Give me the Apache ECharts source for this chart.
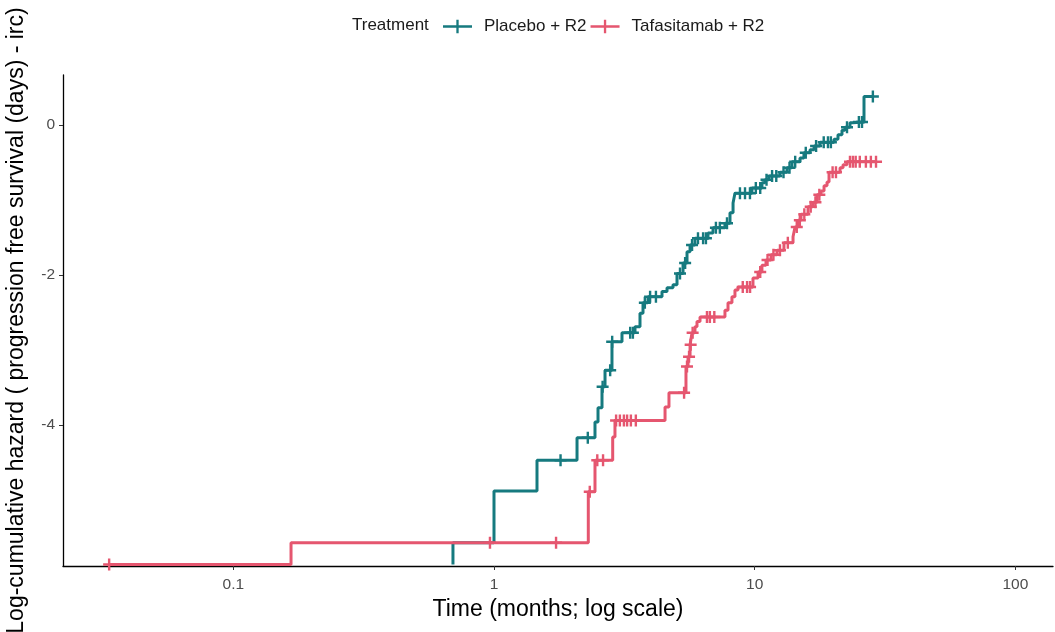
<!DOCTYPE html>
<html>
<head>
<meta charset="utf-8">
<script src="https://cdn.jsdelivr.net/npm/echarts@6/dist/echarts.min.js"></script>
<style>
html,body{margin:0;padding:0;background:#fff;}
#chart{width:1055px;height:632px;}
</style>
</head>
<body>
<div id="chart"></div>
<script>
// ---- Data (time in months, log-cumulative hazard) ----
var placeboName = 'Placebo + R2';
var tafaName = 'Tafasitamab + R2';

var placeboTime = [0.696, 0.696, 1.00, 1.462, 2.082, 2.440, 2.506, 2.596, 2.666, 2.835, 3.097, 3.474, 3.631, 3.729, 3.897, 4.41, 4.61, 4.86, 5.035, 5.31, 5.50, 5.65, 5.90, 6.62, 6.92, 7.69, 8.04, 8.26, 8.40, 9.76, 10.66, 10.95, 11.34, 12.5, 13.3, 13.9, 14.92, 15.45, 16.3, 16.9, 17.81, 20.15, 20.87, 21.62, 22.2, 23.2, 23.8, 26.26, 28.4];
var placeboLogH = [-5.86, -5.57, -4.88, -4.47, -4.17, -3.96, -3.77, -3.49, -3.27, -2.89, -2.77, -2.69, -2.51, -2.37, -2.29, -2.22, -2.17, -2.13, -1.98, -1.84, -1.69, -1.60, -1.51, -1.44, -1.37, -1.31, -1.17, -1.04, -0.91, -0.84, -0.77, -0.73, -0.68, -0.63, -0.57, -0.49, -0.44, -0.37, -0.33, -0.28, -0.23, -0.19, -0.13, -0.07, -0.03, 0.03, 0.04, 0.38, 0.38];
var placeboCensor = [1.80, 2.29, 2.61, 2.79, 2.84, 3.33, 3.41, 3.79, 3.97, 4.18, 5.17, 5.41, 5.75, 6.06, 6.34, 6.5, 7.1, 7.35, 7.83, 8.78, 9.18, 9.59, 10.1, 10.5, 11.1, 11.66, 12.1, 12.9, 13.6, 14.3, 15.7, 17.2, 18.4, 19.1, 19.6, 22.6, 25.1, 25.8, 28.4];

var tafaTime = [0.0334, 0.1665, 2.300, 2.440, 2.853, 2.911, 4.53, 4.69, 5.45, 5.55, 5.65, 5.75, 5.90, 6.007, 6.17, 7.69, 7.90, 8.18, 8.40, 8.63, 9.85, 10.3, 10.66, 11.05, 11.55, 12.18, 12.95, 14.03, 14.28, 14.66, 15.05, 16.02, 16.74, 17.34, 17.96, 18.45, 18.94, 19.28, 21.25, 21.82, 22.6, 29.2];
var tafaLogH = [-5.86, -5.57, -4.89, -4.47, -4.16, -3.94, -3.76, -3.57, -3.22, -3.09, -2.93, -2.77, -2.69, -2.62, -2.56, -2.47, -2.37, -2.29, -2.20, -2.16, -2.04, -1.96, -1.87, -1.80, -1.73, -1.67, -1.57, -1.49, -1.36, -1.27, -1.19, -1.09, -1.03, -0.93, -0.88, -0.81, -0.76, -0.63, -0.57, -0.53, -0.49, -0.49];
var tafaCensor = [0.0334, 0.965, 1.73, 2.33, 2.49, 2.62, 2.94, 3.04, 3.15, 3.24, 3.35, 3.50, 5.36, 5.50, 5.60, 5.68, 5.78, 6.56, 6.73, 7.0, 9.0, 9.35, 9.6, 10.5, 11.2, 11.8, 12.5, 13.4, 14.5, 14.9, 15.5, 16.4, 17.1, 17.7, 19.9, 20.5, 23.2, 23.8, 24.4, 25.3, 26.7, 27.9, 29.2];

var xTicks = [0.1, 1, 10, 100];
var yTicks = [-4, -2, 0];

// ---- Helpers ----
function pairs(xs, ys) { return xs.map(function (x, i) { return [x, ys[i]]; }); }
function stepAt(xs, ys, t) {
  var v = ys[0];
  for (var i = 0; i < xs.length; i++) { if (xs[i] <= t + 1e-9) v = ys[i]; }
  return v;
}
function censorPts(cs, xs, ys) { return cs.map(function (t) { return [t, stepAt(xs, ys, t)]; }); }

var teal = '#167A7F';
var red = '#E5566F';
var font = "'Liberation Sans', Arial, sans-serif";
var plus = 'path://M-6,-1.2 L-1.2,-1.2 L-1.2,-6 L1.2,-6 L1.2,-1.2 L6,-1.2 L6,1.2 L1.2,1.2 L1.2,6 L-1.2,6 L-1.2,1.2 L-6,1.2 Z';
var legendIcon = 'path://M0,5.8 L30,5.8 L30,8.2 L0,8.2 Z M13.8,0 L16.2,0 L16.2,14 L13.8,14 Z';

var chart = echarts.init(document.getElementById('chart'), null, { renderer: 'canvas' });
chart.setOption({
  animation: false,
  backgroundColor: '#ffffff',
  textStyle: { fontFamily: font },
  title: {
    text: 'Treatment', left: 352, top: 17, padding: 0,
    textStyle: { fontSize: 17, fontWeight: 'normal', color: '#1a1a1a', fontFamily: font }
  },
  legend: {
    left: 443, top: 18, padding: 0,
    itemWidth: 29, itemHeight: 14, itemGap: 4,
    textStyle: { fontSize: 17, color: '#1a1a1a', fontFamily: font, padding: [0, 0, 0, 7] },
    data: [
      { name: placeboName, icon: legendIcon, itemStyle: { color: teal } },
      { name: tafaName, icon: legendIcon, itemStyle: { color: red } }
    ]
  },
  grid: { left: 63, right: 2, top: 75, bottom: 66, containLabel: false, outerBoundsMode: 'none' },
  xAxis: {
    type: 'log', logBase: 10, min: 0.02222, max: 139.4,
    name: 'Time (months; log scale)', nameLocation: 'middle', nameGap: 29,
    nameTextStyle: { fontSize: 23, color: '#000', fontFamily: font },
    axisLine: { show: true, onZero: false, lineStyle: { color: '#000', width: 1.3 } },
    axisTick: { show: true, length: 4, customValues: xTicks, lineStyle: { color: '#333' } },
    axisLabel: { customValues: xTicks, fontSize: 15.5, color: '#4d4d4d', margin: 11, fontFamily: font },
    splitLine: { show: false }, minorTick: { show: false }
  },
  yAxis: {
    type: 'value', min: -5.88, max: 0.667,
    name: 'Log-cumulative hazard ( progression free survival (days) - irc)',
    nameLocation: 'middle', nameGap: 35,
    nameTextStyle: { fontSize: 23, color: '#000', fontFamily: font },
    axisLine: { show: true, lineStyle: { color: '#000', width: 1.3 } },
    axisTick: { show: true, length: 4, customValues: yTicks, lineStyle: { color: '#333' } },
    axisLabel: { customValues: yTicks, fontSize: 15.5, color: '#4d4d4d', margin: 8, fontFamily: font },
    splitLine: { show: false }
  },
  series: [
    {
      name: placeboName, type: 'line', step: 'end', showSymbol: false, symbol: 'none',
      data: pairs(placeboTime, placeboLogH),
      lineStyle: { color: teal, width: 3 }, itemStyle: { color: teal }, z: 3
    },
    {
      name: tafaName, type: 'line', step: 'end', showSymbol: false, symbol: 'none',
      data: pairs(tafaTime, tafaLogH),
      lineStyle: { color: red, width: 3 }, itemStyle: { color: red }, z: 4
    },
    {
      name: placeboName + ' censored', type: 'scatter', symbol: plus, symbolSize: 12,
      data: censorPts(placeboCensor, placeboTime, placeboLogH),
      itemStyle: { color: teal, opacity: 1 }, z: 3
    },
    {
      name: tafaName + ' censored', type: 'scatter', symbol: plus, symbolSize: 12,
      data: censorPts(tafaCensor, tafaTime, tafaLogH),
      itemStyle: { color: red, opacity: 1 }, z: 4
    }
  ]
});
</script>
</body>
</html>
